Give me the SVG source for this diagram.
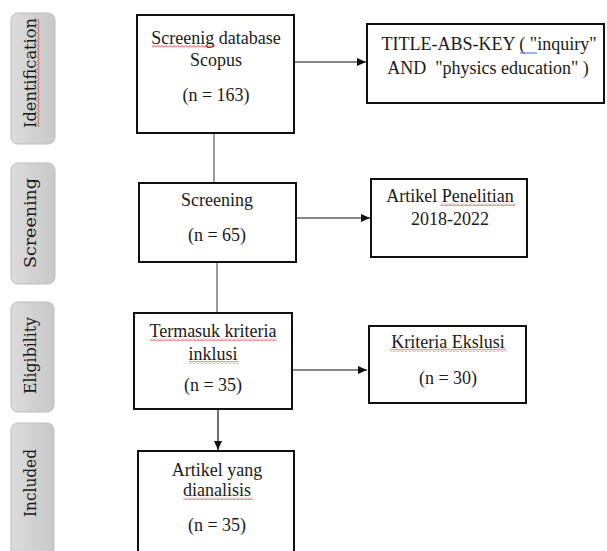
<svg xmlns="http://www.w3.org/2000/svg" width="607" height="551" viewBox="0 0 607 551">
<style>
.stage rect{stroke:#bdbdbd;stroke-width:1;fill:url(#gr)}
.stage text{font-size:16px;fill:#1a1a1a;text-anchor:middle}
.box rect{fill:#fff;stroke:#111;stroke-width:2}
.box text{font-size:18px;fill:#1a1a1a;text-anchor:middle}
.box rect.sq,.stage rect.sq{fill:url(#zz);stroke:none}
#connectors line{stroke:#111;stroke-width:1.2}
#connectors line.g{stroke:#7a7a7a;stroke-width:1.5}
</style>
<defs>
<linearGradient id="gr" x1="0" y1="0" x2="1" y2="0">
<stop offset="0" stop-color="#dcdcdc"/><stop offset="1" stop-color="#c8c8c8"/>
</linearGradient>
<pattern id="zz" width="4" height="3" patternUnits="userSpaceOnUse">
<path d="M0,2.5 L2,0.5 L4,2.5" fill="none" stroke="#e02020" stroke-width="0.9"/>
</pattern>
<marker id="ah" markerWidth="9" markerHeight="8" refX="9" refY="4" orient="auto" markerUnits="userSpaceOnUse">
<path d="M0,0 L9,4 L0,8 Z" fill="#111"/>
</marker>
</defs>
<rect width="607" height="551" fill="#fff"/>

<g font-family="'DejaVu Serif', 'Liberation Serif', serif">
<g id="stage-identification" class="stage">
<rect x="11" y="13" width="44" height="131" rx="7"/>
<text transform="translate(36,73) rotate(-90)" textLength="110" lengthAdjust="spacingAndGlyphs">Identification</text>
<rect class="sq" x="0" y="0" width="108" height="3" transform="translate(37,127) rotate(-90)"/>
</g>
<g id="stage-screening" class="stage">
<rect x="11" y="163" width="44" height="121" rx="7"/>
<text transform="translate(36,223) rotate(-90)" textLength="90" lengthAdjust="spacingAndGlyphs">Screening</text>
</g>
<g id="stage-eligibility" class="stage">
<rect x="11" y="302" width="43" height="110" rx="7"/>
<text transform="translate(36,355.5) rotate(-90)" textLength="77" lengthAdjust="spacingAndGlyphs">Eligibility</text>
</g>
<g id="stage-included" class="stage">
<rect x="11" y="423" width="43" height="140" rx="7"/>
<text transform="translate(36,483) rotate(-90)" textLength="68" lengthAdjust="spacingAndGlyphs">Included</text>
</g>
</g>

<g id="connectors">
<line x1="294" y1="62" x2="366" y2="62" marker-end="url(#ah)"/>
<line class="g" x1="214" y1="133" x2="214" y2="183"/>
<line x1="296" y1="218" x2="370" y2="218" marker-end="url(#ah)"/>
<line class="g" x1="217" y1="262" x2="217" y2="313"/>
<line x1="292" y1="370" x2="367" y2="370" marker-end="url(#ah)"/>
<line x1="218" y1="409" x2="218" y2="450" marker-end="url(#ah)"/>
</g>

<g font-family="'Liberation Serif', 'Times New Roman', serif">
<g id="node-scopus" class="box">
<rect x="137" y="15" width="157" height="118"/>
<text x="216" y="44">Screenig database</text>
<text x="216" y="66">Scopus</text>
<text x="216" y="101">(n = 163)</text>
<rect class="sq" x="152" y="45" width="63" height="3"/>
</g>
<g id="node-query" class="box">
<rect x="367" y="24" width="237" height="79"/>
<text x="489" y="50">TITLE-ABS-KEY ( "inquiry"</text>
<text x="488" y="74" xml:space="preserve">AND  "physics education" )</text>
<line x1="520" y1="53" x2="537" y2="53" stroke="#3b6fd4" stroke-width="1"/>
</g>
<g id="node-screening" class="box">
<rect x="139" y="183" width="157" height="79"/>
<text x="217" y="206">Screening</text>
<text x="217" y="241">(n = 65)</text>
</g>
<g id="node-artikel" class="box">
<rect x="371" y="179" width="156" height="78"/>
<text x="450" y="202">Artikel Penelitian</text>
<text x="450" y="225">2018-2022</text>
<rect class="sq" x="440" y="203" width="75" height="3"/>
</g>
<g id="node-inklusi" class="box">
<rect x="134" y="313" width="158" height="96"/>
<text x="213" y="337">Termasuk kriteria</text>
<text x="213" y="360">inklusi</text>
<text x="213" y="391">(n = 35)</text>
<rect class="sq" x="150" y="338" width="127" height="3"/>
<rect class="sq" x="189" y="361" width="49" height="3"/>
</g>
<g id="node-eksklusi" class="box">
<rect x="369" y="326" width="157" height="77"/>
<text x="448" y="348">Kriteria Ekslusi</text>
<text x="448" y="384">(n = 30)</text>
<rect class="sq" x="390" y="349" width="116" height="3"/>
</g>
<g id="node-dianalisis" class="box">
<rect x="138" y="451" width="156" height="110"/>
<text x="217" y="476">Artikel yang</text>
<text x="217" y="496">dianalisis</text>
<text x="217" y="531">(n = 35)</text>
<rect class="sq" x="183" y="497" width="70" height="3"/>
</g>
</g>
</svg>
